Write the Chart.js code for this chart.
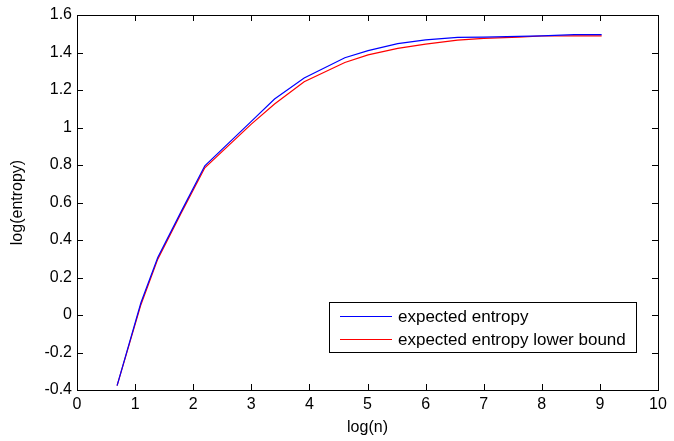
<!DOCTYPE html>
<html>
<head>
<meta charset="utf-8">
<script src="https://cdn.jsdelivr.net/npm/chart.js@4.4.1/dist/chart.umd.min.js"></script>
<style>
  html, body { margin: 0; padding: 0; background: #fff; }
  #wrap { width: 674px; height: 441px; }
</style>
</head>
<body>
<div id="wrap"><canvas id="c" width="674" height="441"></canvas></div>
<script>
// values
const logN = [0.69, 1.10, 1.39, 1.79, 2.20, 3.00, 3.40, 3.91, 4.61, 5.01, 5.52, 6.00, 6.55, 7.00, 7.60, 8.00, 8.56, 9.03];
const expectedEntropy = [-0.377, 0.065, 0.307, 0.550, 0.796, 1.033, 1.152, 1.264, 1.372, 1.410, 1.447, 1.467, 1.481, 1.482, 1.486, 1.489, 1.495, 1.495];
const lowerBound = [-0.377, 0.055, 0.298, 0.542, 0.785, 1.018, 1.125, 1.244, 1.347, 1.387, 1.422, 1.445, 1.466, 1.475, 1.482, 1.488, 1.489, 1.489];
const seriesNames = ["expected entropy", "expected entropy lower bound"];
const xTicks = [0, 1, 2, 3, 4, 5, 6, 7, 8, 9, 10];
const yTicks = [-0.4, -0.2, 0, 0.2, 0.4, 0.6, 0.8, 1, 1.2, 1.4, 1.6];

const FONT = "'Liberation Sans', Arial, sans-serif";

const toPoints = (xs, ys) => xs.map((x, i) => ({ x: x, y: ys[i] }));

// MATLAB style box with inward ticks
const boxPlugin = {
  id: "box",
  afterDraw(chart) {
    const ctx = chart.ctx;
    const a = chart.chartArea;
    const xs = chart.scales.x, ys = chart.scales.y;
    ctx.save();
    ctx.strokeStyle = "#000";
    ctx.lineWidth = 1;
    ctx.beginPath();
    xTicks.forEach(v => {
      const p = Math.round(xs.getPixelForValue(v)) + 0.5;
      ctx.moveTo(p, a.bottom); ctx.lineTo(p, a.bottom - 6);
      ctx.moveTo(p, a.top); ctx.lineTo(p, a.top + 6);
    });
    yTicks.forEach(v => {
      const p = Math.round(ys.getPixelForValue(v)) + 0.5;
      ctx.moveTo(a.left, p); ctx.lineTo(a.left + 6, p);
      ctx.moveTo(a.right, p); ctx.lineTo(a.right - 6, p);
    });
    ctx.stroke();
    ctx.strokeRect(Math.round(a.left) + 0.5, Math.round(a.top) + 0.5,
      Math.round(a.right - a.left), Math.round(a.bottom - a.top));

    // legend box inside the axes
    const lx = 329.5, ly = 302.5, lw = 307, lh = 50;
    ctx.fillStyle = "#fff";
    ctx.fillRect(lx, ly, lw, lh);
    ctx.strokeRect(lx, ly, lw, lh);
    ctx.font = "17px " + FONT;
    ctx.textBaseline = "middle";
    chart.data.datasets.forEach((ds, i) => {
      const yy = 316 + i * 23;
      ctx.strokeStyle = ds.borderColor;
      ctx.beginPath();
      ctx.moveTo(340, yy + 0.5); ctx.lineTo(392, yy + 0.5);
      ctx.stroke();
      ctx.fillStyle = "#000";
      ctx.fillText(ds.label, 398, yy + 1);
    });
    ctx.restore();
  }
};

new Chart(document.getElementById("c"), {
  type: "scatter",
  data: {
    datasets: [
      {
        label: seriesNames[0],
        data: toPoints(logN, expectedEntropy),
        showLine: true,
        borderColor: "#0000ff",
        borderWidth: 1.2,
        pointRadius: 0,
        tension: 0
      },
      {
        label: seriesNames[1],
        data: toPoints(logN, lowerBound),
        showLine: true,
        borderColor: "#ff0000",
        borderWidth: 1.2,
        pointRadius: 0,
        tension: 0
      }
    ]
  },
  options: {
    responsive: false,
    animation: false,
    layout: { padding: { top: 15, right: 16, left: 0, bottom: 0 } },
    plugins: {
      legend: { display: false },
      tooltip: { enabled: false }
    },
    scales: {
      x: {
        type: "linear",
        min: 0,
        max: 10,
        afterBuildTicks: s => { s.ticks = xTicks.map(v => ({ value: v })); },
        afterFit: s => { s.height = 51; },
        grid: { display: false, drawTicks: false },
        border: { display: false },
        ticks: {
          color: "#000",
          padding: 5,
          font: { family: FONT, size: 16 },
          maxRotation: 0
        },
        title: {
          display: true,
          text: "log(n)",
          color: "#000",
          font: { family: FONT, size: 16 },
          padding: { top: 0, bottom: 4 }
        }
      },
      y: {
        type: "linear",
        min: -0.4,
        max: 1.6,
        afterBuildTicks: s => { s.ticks = yTicks.map(v => ({ value: v })); },
        afterFit: s => { s.width = 77; },
        grid: { display: false, drawTicks: false },
        border: { display: false },
        ticks: {
          color: "#000",
          padding: 5,
          font: { family: FONT, size: 16 },
          callback: v => String(Number(v.toFixed(1)))
        },
        title: {
          display: true,
          text: "log(entropy)",
          color: "#000",
          font: { family: FONT, size: 16 },
          padding: { top: 8, bottom: 0 }
        }
      }
    }
  },
  plugins: [boxPlugin]
});
</script>
</body>
</html>
